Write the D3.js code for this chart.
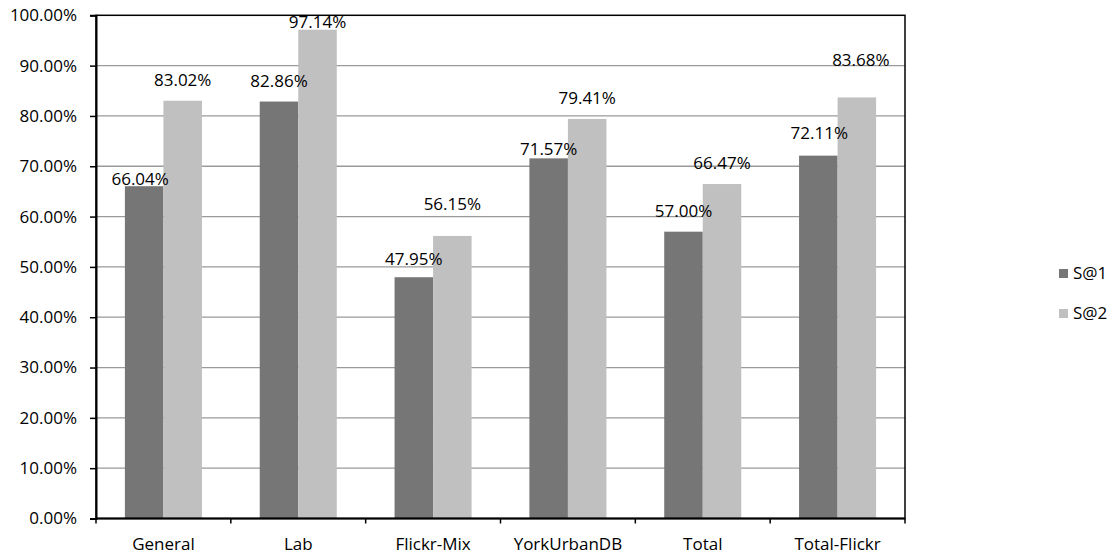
<!DOCTYPE html>
<html>
<head>
<meta charset="utf-8">
<script src="https://cdn.jsdelivr.net/npm/d3@7"></script>
<style>
  html, body { margin: 0; padding: 0; background: #fff; }
  svg { display: block; }
  text { font-family: "Open Sans", "Noto Sans", sans-serif; fill: #000; }
</style>
</head>
<body>
<svg id="chart" width="1112" height="557"></svg>
<script>
// Data
const categories = ["General", "Lab", "Flickr-Mix", "YorkUrbanDB", "Total", "Total-Flickr"];
const seriesNames = ["S@1", "S@2"];
const s1Values = [66.04, 82.86, 47.95, 71.57, 57.00, 72.11];
const s2Values = [83.02, 97.14, 56.15, 79.41, 66.47, 83.68];
const yTicks = [0, 10, 20, 30, 40, 50, 60, 70, 80, 90, 100];

// Layout
const plot = { left: 96, right: 905, top: 15.3, bottom: 518.5 };
const colors = { "S@1": "#767676", "S@2": "#c0c0c0" };
const fontSize = 17;
// per-label nudges (px) to keep value labels clear of neighbouring bars
const labelDy = { "S@1": [-14, 0, -3, -12, 0, 2], "S@2": [0, -13, 11, 0, 0, 16] };
const labelDx = { "S@1": [-4, 0, 0, 0, 0, 1], "S@2": [0, 0, 0, 0, 0, 4] };

const svg = d3.select("#chart");

const x = d3.scaleBand().domain(categories).range([plot.left, plot.right]).padding(0);
const W = x.bandwidth();
const xs = d3.scaleBand().domain(seriesNames)
  .range([0.75 * W / 3.5, 2.75 * W / 3.5]).padding(0);
const y = d3.scaleLinear().domain([0, 100]).range([plot.bottom, plot.top]);

// Gridlines
svg.append("g").selectAll("line").data(yTicks.filter(t => t > 0 && t < 100)).join("line")
  .attr("x1", plot.left).attr("x2", plot.right)
  .attr("y1", d => y(d)).attr("y2", d => y(d))
  .attr("stroke", "#9a9a9a").attr("stroke-width", 1.3);

// Bars
const series = seriesNames.map((name, i) => ({ name, values: i === 0 ? s1Values : s2Values }));
const rows = [];
series.forEach(s => s.values.forEach((v, j) => rows.push({ s: s.name, cat: categories[j], j, v })));

svg.append("g").selectAll("rect").data(rows).join("rect")
  .attr("x", d => x(d.cat) + xs(d.s))
  .attr("width", xs.bandwidth())
  .attr("y", d => y(d.v))
  .attr("height", d => y(0) - y(d.v))
  .attr("fill", d => colors[d.s]);

// Value labels
svg.append("g").selectAll("text").data(rows).join("text")
  .attr("x", d => x(d.cat) + xs(d.s) + xs.bandwidth() / 2 + labelDx[d.s][d.j])
  .attr("y", d => y(d.v) - 15 - labelDy[d.s][d.j])
  .attr("text-anchor", "middle")
  .attr("font-size", fontSize)
  .text(d => d.v.toFixed(2) + "%");

// Plot area border
svg.append("rect")
  .attr("x", plot.left).attr("y", plot.top)
  .attr("width", plot.right - plot.left).attr("height", plot.bottom - plot.top)
  .attr("fill", "none").attr("stroke", "#000").attr("stroke-width", 1.5);

// Y axis
const yAxis = svg.append("g").attr("transform", `translate(${plot.left},0)`)
  .call(d3.axisLeft(y).tickValues(yTicks).tickSize(6).tickPadding(13)
    .tickFormat(d => d.toFixed(2) + "%"));
yAxis.select(".domain").attr("stroke", "#000").attr("stroke-width", 2);
yAxis.selectAll(".tick line").attr("stroke", "#000").attr("stroke-width", 1.5);
yAxis.selectAll(".tick text").attr("font-size", fontSize)
  .attr("font-family", "'Open Sans', 'Noto Sans', sans-serif").attr("fill", "#000");

// X axis with ticks at category boundaries
const xAxis = svg.append("g").attr("transform", `translate(0,${plot.bottom})`);
xAxis.append("line").attr("x1", plot.left).attr("x2", plot.right)
  .attr("stroke", "#000").attr("stroke-width", 2);
const bounds = categories.map(c => x(c)).concat([plot.right]);
xAxis.selectAll("line.tk").data(bounds).join("line").attr("class", "tk")
  .attr("x1", d => d).attr("x2", d => d).attr("y1", 0).attr("y2", 5)
  .attr("stroke", "#000").attr("stroke-width", 1.5);
xAxis.selectAll("text").data(categories).join("text")
  .attr("x", d => x(d) + W / 2).attr("y", 31.5)
  .attr("text-anchor", "middle").attr("font-size", fontSize)
  .text(d => d);

// Legend
const legend = svg.append("g").attr("transform", "translate(1059,269)");
seriesNames.forEach((name, i) => {
  const g = legend.append("g").attr("transform", `translate(0,${i * 40})`);
  g.append("rect").attr("width", 9).attr("height", 9).attr("fill", colors[name]);
  g.append("text").attr("x", 14).attr("y", 9.5).attr("font-size", fontSize).text(name);
});
</script>
</body>
</html>
